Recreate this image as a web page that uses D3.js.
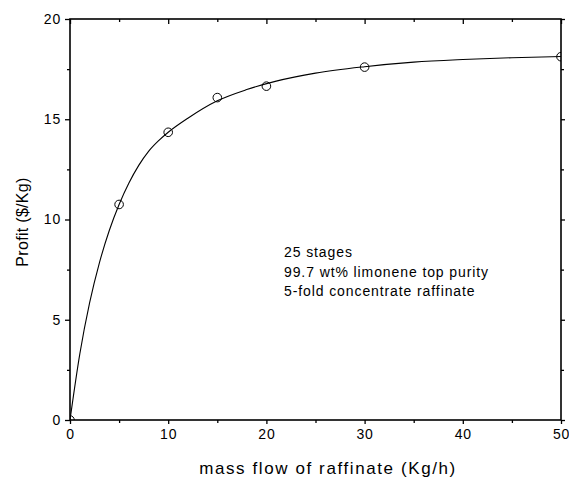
<!DOCTYPE html>
<html>
<head>
<meta charset="utf-8">
<script src="https://cdn.jsdelivr.net/npm/d3@7"></script>
<style>
  body { margin: 0; background: #fff; }
  svg text { font-family: "Liberation Sans", Arial, sans-serif; fill: #000; }
</style>
</head>
<body>
<div id="chart"></div>
<script>
// measured points
var flowPts = [0, 5, 10, 15, 20, 30, 50];
var profitPts = [0, 10.75, 14.35, 16.08, 16.65, 17.6, 18.12];

// fitted curve
var curveFlow = [0, 1, 2, 3, 4, 5, 6, 7, 8, 9, 10, 12, 15, 18, 21, 25, 30, 35, 40, 45, 50];
var curveProfit = [0, 3.3, 5.85, 7.85, 9.45, 10.75, 11.82, 12.7, 13.4, 13.92, 14.35, 15.05, 15.92, 16.48, 16.9, 17.3, 17.62, 17.85, 17.98, 18.07, 18.13];

var xTicks = [0, 10, 20, 30, 40, 50];
var yTicks = [0, 5, 10, 15, 20];
var notes = ["25 stages", "99.7 wt% limonene top purity", "5-fold concentrate raffinate"];

var W = 569, H = 479;
var margin = {top: 19, right: 8, bottom: 59, left: 70};
var w = W - margin.left - margin.right,
    h = H - margin.top - margin.bottom;

var svg = d3.select("#chart").append("svg")
    .attr("width", W)
    .attr("height", H);

var g = svg.append("g")
    .attr("transform", "translate(" + margin.left + "," + margin.top + ")");

var x = d3.scaleLinear().domain([0, 50]).range([0, w]);
var y = d3.scaleLinear().domain([0, 20]).range([h, 0]);

g.append("clipPath").attr("id", "clip")
  .append("rect").attr("width", w).attr("height", h);

// minor ticks
var xMinor = d3.range(5, 50, 10);
var yMinor = d3.range(2.5, 20, 5);

function styleAxis(sel) {
    sel.select(".domain").remove();
    sel.selectAll("line").attr("stroke", "#000").attr("stroke-width", 1.3);
    sel.selectAll("text").style("font-size", "14px").style("letter-spacing", "0.8px");
}

g.append("g").attr("transform", "translate(0," + h + ")")
  .call(d3.axisBottom(x).tickValues(xTicks).tickSize(4).tickPadding(5).tickFormat(d3.format("d")))
  .call(styleAxis);
g.append("g").attr("transform", "translate(0," + h + ")")
  .call(d3.axisBottom(x).tickValues(xMinor).tickSize(3).tickFormat(""))
  .call(styleAxis);

g.append("g")
  .call(d3.axisBottom(x).tickValues(xTicks).tickSize(5).tickFormat(""))
  .call(styleAxis);
g.append("g")
  .call(d3.axisBottom(x).tickValues(xMinor).tickSize(3).tickFormat(""))
  .call(styleAxis);

g.append("g")
  .call(d3.axisLeft(y).tickValues(yTicks).tickSize(5).tickPadding(4).tickFormat(d3.format("d")))
  .call(styleAxis);
g.append("g")
  .call(d3.axisLeft(y).tickValues(yMinor).tickSize(3).tickFormat(""))
  .call(styleAxis);

g.append("g").attr("transform", "translate(" + w + ",0)")
  .call(d3.axisRight(y).tickValues(yTicks).tickSize(4).tickFormat(""))
  .call(styleAxis);
g.append("g").attr("transform", "translate(" + w + ",0)")
  .call(d3.axisRight(y).tickValues(yMinor).tickSize(3).tickFormat(""))
  .call(styleAxis);

// frame
g.append("rect")
  .attr("width", w).attr("height", h)
  .attr("fill", "none").attr("stroke", "#000").attr("stroke-width", 1.6);

var plot = g.append("g").attr("clip-path", "url(#clip)");

var line = d3.line()
    .x(function (d) { return x(d[0]); })
    .y(function (d) { return y(d[1]); })
    .curve(d3.curveMonotoneX);

plot.append("path")
  .datum(d3.zip(curveFlow, curveProfit))
  .attr("d", line)
  .attr("fill", "none")
  .attr("stroke", "#000")
  .attr("stroke-width", 1.1);

plot.selectAll("circle")
  .data(d3.zip(flowPts, profitPts))
  .enter().append("circle")
  .attr("cx", function (d) { return x(d[0]); })
  .attr("cy", function (d) { return y(d[1]); })
  .attr("r", 4.3)
  .attr("fill", "none")
  .attr("stroke", "#000")
  .attr("stroke-width", 1);

g.selectAll(".note")
  .data(notes)
  .enter().append("text")
  .attr("class", "note")
  .attr("x", 214)
  .attr("y", function (d, i) { return 238 + i * 19.5; })
  .style("font-size", "14px")
  .style("letter-spacing", "0.9px")
  .text(function (d) { return d; });

svg.append("text")
  .attr("x", 328).attr("y", 474)
  .attr("text-anchor", "middle")
  .style("font-size", "17px")
  .style("letter-spacing", "1.6px")
  .text("mass flow of raffinate (Kg/h)");

svg.append("text")
  .attr("transform", "translate(28,222) rotate(-90)")
  .attr("text-anchor", "middle")
  .style("font-size", "16px")
  .style("letter-spacing", "0.3px")
  .text("Profit ($/Kg)");
</script>
</body>
</html>
